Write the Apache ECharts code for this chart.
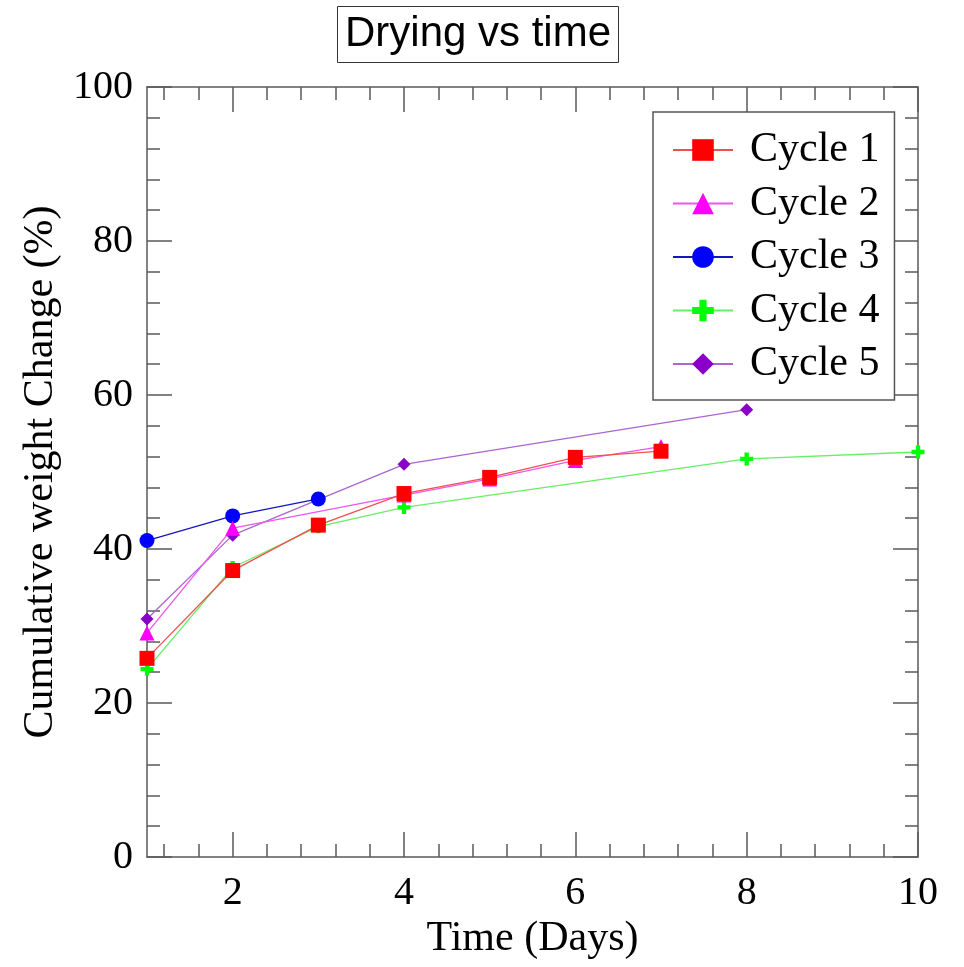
<!DOCTYPE html>
<html>
<head>
<meta charset="utf-8">
<script src="https://cdn.jsdelivr.net/npm/echarts@6/dist/echarts.min.js"></script>
<style>html,body{margin:0;padding:0;background:#fff;}#c{width:964px;height:967px;}</style>
</head>
<body>
<div id="c"></div>
<script>
// ---- data ----
const cycle1 = [[1, 25.8], [2, 37.2], [3, 43.1], [4, 47.2], [5, 49.3], [6, 51.9], [7, 52.7]];
const cycle2 = [[1, 29.1], [2, 42.7], [4, 47.0], [5, 49.1], [6, 51.5], [7, 53.3]];
const cycle3 = [[1, 41.1], [2, 44.3], [3, 46.5]];
const cycle4 = [[1, 24.4], [2, 37.6], [3, 42.9], [4, 45.4], [8, 51.7], [10, 52.6]];
const cycle5 = [[1, 30.9], [2, 41.8], [3, 46.4], [4, 51.0], [8, 58.1]];
const seriesNames = ['Cycle 1', 'Cycle 2', 'Cycle 3', 'Cycle 4', 'Cycle 5'];
const xMajor = [2, 4, 6, 8, 10];
const xMinor = [1.2, 1.6, 2.4, 2.8, 3.2, 3.6, 4.4, 4.8, 5.2, 5.6, 6.4, 6.8, 7.2, 7.6, 8.4, 8.8, 9.2, 9.6];
const yMajor = [0, 20, 40, 60, 80, 100];
const yMinor = [4, 8, 12, 16, 24, 28, 32, 36, 44, 48, 52, 56, 64, 68, 72, 76, 84, 88, 92, 96];
const titleText = 'Drying vs time';
const xName = 'Time (Days)';
const yName = 'Cumulative weight Change (%)';

const SERIF = 'Liberation Serif';
const axisCol = '#5a5a5a';
const plusPath = 'path://M4,0H8V4H12V8H8V12H4V8H0V4H4Z';

function mkAxis(kind, position, values, len, showLine, labels, extra) {
  const a = {
    type: 'value', position: position,
    min: kind === 'x' ? 1 : 0, max: kind === 'x' ? 10 : 100,
    axisLine: { show: showLine, onZero: false, lineStyle: { color: axisCol, width: 1.5 } },
    axisTick: { show: true, inside: true, length: len, customValues: values, lineStyle: { color: axisCol, width: 1.5 } },
    axisLabel: labels ? { show: true, customValues: values, color: '#000', fontFamily: SERIF, fontSize: 40, margin: kind === 'x' ? 16 : 14 } : { show: false },
    splitLine: { show: false }
  };
  return Object.assign(a, extra || {});
}

const chart = echarts.init(document.getElementById('c'));
const option = {
  animation: false,
  backgroundColor: '#fff',
  title: {
    text: titleText, left: 337, top: 6,
    padding: [6, 8, 7, 8],
    borderColor: '#333', borderWidth: 1,
    textStyle: { fontFamily: 'Liberation Sans', fontSize: 42, fontWeight: 'normal', color: '#000', lineHeight: 44 }
  },
  grid: { left: 147, right: 46, top: 87, bottom: 110, containLabel: false },
  legend: {
    data: seriesNames, orient: 'vertical', left: 653, top: 112,
    padding: [17, 15, 15, 19],
    itemWidth: 60, itemHeight: 27, itemGap: 11.5,
    borderColor: '#555', borderWidth: 1.5, backgroundColor: '#fff',
    textStyle: { fontFamily: SERIF, fontSize: 42, color: '#000', padding: [0, 0, 0, 12] }
  },
  xAxis: [
    mkAxis('x', 'bottom', xMajor, 25, true, true, { name: xName, nameLocation: 'middle', nameGap: 60, nameTextStyle: { fontFamily: SERIF, fontSize: 42, color: '#000' } }),
    mkAxis('x', 'bottom', xMinor, 13, false, false),
    mkAxis('x', 'top', xMajor, 25, true, false),
    mkAxis('x', 'top', xMinor, 13, false, false)
  ],
  yAxis: [
    mkAxis('y', 'left', yMajor, 25, true, true, { name: yName, nameLocation: 'middle', nameGap: 72, nameTextStyle: { fontFamily: SERIF, fontSize: 42, color: '#000' } }),
    mkAxis('y', 'left', yMinor, 13, false, false),
    mkAxis('y', 'right', yMajor, 25, true, false),
    mkAxis('y', 'right', yMinor, 13, false, false)
  ],
  series: [
    { name: seriesNames[0], type: 'line', data: cycle1, z: 10, symbol: 'rect', symbolSize: 15,
      itemStyle: { color: '#ff0000' }, lineStyle: { color: '#f05050', width: 1.3 } },
    { name: seriesNames[1], type: 'line', data: cycle2, z: 9, symbol: 'triangle', symbolSize: 15,
      itemStyle: { color: '#ff00ff' }, lineStyle: { color: '#ee55ee', width: 1.3 } },
    { name: seriesNames[2], type: 'line', data: cycle3, z: 8, symbol: 'circle', symbolSize: 15,
      itemStyle: { color: '#0000ff' }, lineStyle: { color: '#1515c0', width: 1.3 } },
    { name: seriesNames[3], type: 'line', data: cycle4, z: 7, symbol: plusPath, symbolSize: 13,
      itemStyle: { color: '#00ff00' }, lineStyle: { color: '#66ee66', width: 1.3 } },
    { name: seriesNames[4], type: 'line', data: cycle5, z: 6, symbol: 'diamond', symbolSize: 13,
      itemStyle: { color: '#8a00c8' }, lineStyle: { color: '#aa66cc', width: 1.3 } }
  ]
};
option.series.forEach(function (s) { s.showAllSymbol = true; s.clip = false; });
chart.setOption(option);
</script>
</body>
</html>
